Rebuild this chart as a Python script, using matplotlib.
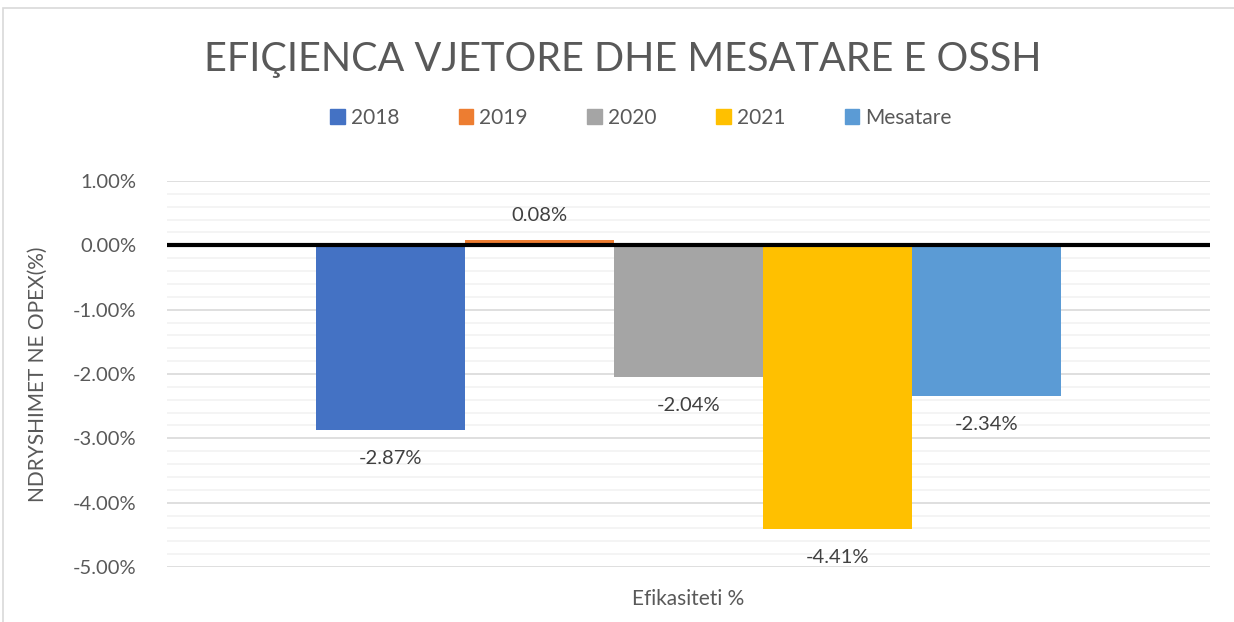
import matplotlib.pyplot as plt
from matplotlib.patches import Rectangle
from matplotlib.ticker import FuncFormatter, MultipleLocator

plt.rcParams['font.family'] = ['Lato', 'DejaVu Sans']

series = ['2018', '2019', '2020', '2021', 'Mesatare']
values = [-2.87, 0.08, -2.04, -4.41, -2.34]
colors = ['#4472C4', '#ED7D31', '#A5A5A5', '#FFC000', '#5B9BD5']
category = 'Efikasiteti %'

fig = plt.figure(figsize=(12.34, 6.22), dpi=100)
ax = fig.add_axes([167/1234, 1-567/622, (1210-167)/1234, (567-181)/622])

# chart frame (right and bottom edges run off the picture)
fig.patches.append(Rectangle((3/1234, -0.05), 1.1, 1.05 - 8/622, transform=fig.transFigure,
                             fill=False, edgecolor='#D9D9D9', linewidth=1.2))

w = 149/1043
n = len(values)
xs = [(i - (n-1)/2) * w for i in range(n)]
ax.bar(xs, values, width=w, color=colors, zorder=3)

for x, v in zip(xs, values):
    if v >= 0:
        ax.text(x, v + 0.38, f'{v:.2f}%', ha='center', va='center', fontsize=14.5, color='#404040')
    else:
        ax.text(x, v - 0.45, f'{v:.2f}%', ha='center', va='center', fontsize=14.5, color='#404040')

ax.set_xlim(-0.5, 0.5)
ax.set_ylim(-5, 1)
ax.yaxis.set_major_locator(MultipleLocator(1))
ax.yaxis.set_minor_locator(MultipleLocator(0.2))
ax.yaxis.set_major_formatter(FuncFormatter(lambda v, p: f'{v:.2f}%'))
ax.grid(axis='y', which='major', color='#D9D9D9', linewidth=1.2, zorder=0)
ax.grid(axis='y', which='minor', color='#F2F2F2', linewidth=1.2, zorder=0)
ax.axhline(0, color='black', linewidth=3, zorder=4)
ax.set_xticks([])
ax.tick_params(axis='y', which='both', length=0, labelsize=14.5, labelcolor='#595959', pad=22)
for s in ax.spines.values():
    s.set_visible(False)

ax.set_xlabel(category, fontsize=15, color='#595959', labelpad=16)
ax.set_ylabel('NDRYSHIMET NE OPEX(%)', fontsize=15, color='#595959', labelpad=18)

fig.text(623/1234, 1-60/622, 'EFIÇIENCA VJETORE DHE MESATARE E OSSH', ha='center', va='center',
         fontsize=28.5, color='#595959', fontweight='normal')

handles = [Rectangle((0, 0), 1, 1, color=c) for c in colors]
fig.legend(handles, series, loc='center', bbox_to_anchor=(641/1234, 1-118/622), ncol=5,
           frameon=False, fontsize=15, handlelength=0.7, handleheight=0.7,
           handletextpad=0.3, columnspacing=2.85, labelcolor='#595959')

fig.savefig('out.png', dpi=100)
